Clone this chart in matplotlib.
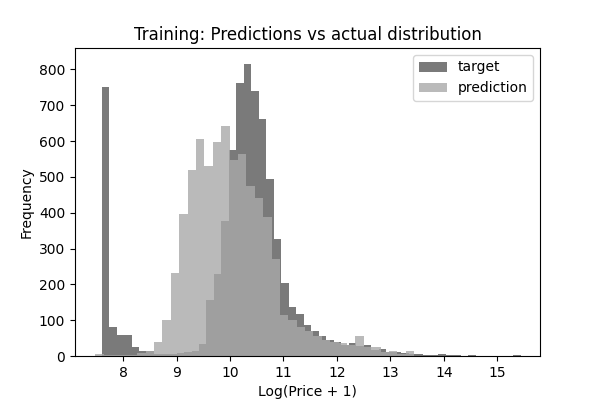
import matplotlib
matplotlib.use("Agg")
import matplotlib.pyplot as plt
import numpy as np

# bin counts
target_start, target_width = 7.6, 0.14
target_counts = [750, 81, 58, 58, 25, 14, 14, 5, 5, 5, 8, 10, 14, 33,
                 155, 228, 378, 575, 761, 815, 739, 661, 494, 328,
                 205, 136, 117, 86, 70, 55, 45, 38, 32, 35,
                 28, 30, 18, 20, 12, 10, 8, 6, 5, 4,
                 3, 5, 2, 2, 1, 3, 1, 1, 0, 1, 0, 2]

pred_start, pred_width = 7.48, 0.157
pred_counts = [5, 3, 2, 2, 3, 8, 15, 39, 100, 233, 397, 519, 605, 530,
               597, 641, 547, 564, 475, 442, 389, 272, 114, 100, 80, 70,
               55, 45, 40, 35, 30, 55, 25, 25, 10, 15, 5, 15]

t_edges = target_start + target_width * np.arange(len(target_counts) + 1)
p_edges = pred_start + pred_width * np.arange(len(pred_counts) + 1)

fig, ax = plt.subplots(figsize=(6, 4), dpi=100)
ax.hist(t_edges[:-1], bins=t_edges, weights=target_counts, color='#7a7a7a', label='target')
ax.hist(p_edges[:-1], bins=p_edges, weights=pred_counts, color='#a9a9a9', alpha=0.805, label='prediction')
ax.set_xlabel("Log(Price + 1)")
ax.set_ylabel("Frequency")
ax.set_title("Training: Predictions vs actual distribution")
ax.set_ylim(0, 860)
ax.set_xlim(7.1, 15.8)
ax.legend(loc='upper right')
fig.subplots_adjust(left=0.125, right=0.9, top=0.88, bottom=0.11)
fig.savefig("out.png")
